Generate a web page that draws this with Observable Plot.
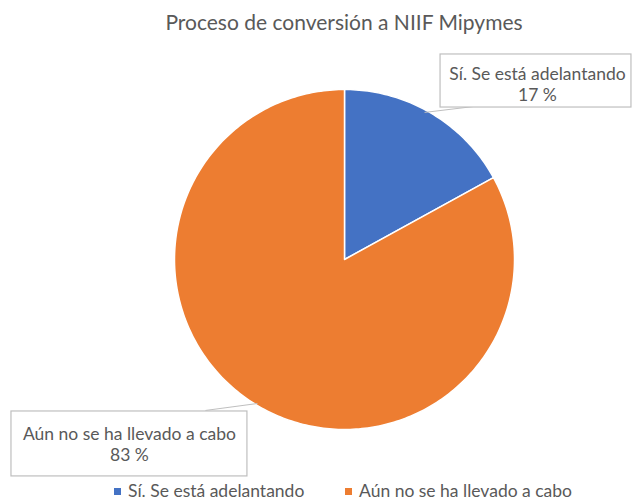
<!DOCTYPE html>
<html>
<head>
<meta charset="utf-8">
<script src="https://cdn.jsdelivr.net/npm/d3@7"></script>
<script src="https://cdn.jsdelivr.net/npm/@observablehq/plot@0.6"></script>
<style>
  body { margin: 0; background: #fff; font-family: Lato, "Open Sans", sans-serif; color: #595959; }
  #wrap { width: 632px; height: 502px; position: relative; overflow: hidden; }
  #title { position: absolute; left: 0; top: 0; width: 632px; height: 44px; line-height: 44px; text-align: center; font-size: 21px; padding-left: 56px; box-sizing: border-box; }
  #chart { position: absolute; left: 0; top: 44px; }
  #legend { position: absolute; left: 0; top: 480px; width: 632px; height: 22px; font-size: 17.5px; }
  .item { position: absolute; top: 0; line-height: 22px; white-space: nowrap; }
  .sw { display: inline-block; width: 7px; height: 7px; margin-right: 7px; vertical-align: middle; position: relative; top: -1px; }
</style>
</head>
<body>
<div id="wrap">
  <div id="title"></div>
  <div id="chart"></div>
  <div id="legend"></div>
</div>
<script>
const title = "Proceso de conversión a NIIF Mipymes";
const categories = ["Sí. Se está adelantando", "Aún no se ha llevado a cabo"];
const values = [17, 83];
const colors = ["#4472C4", "#ED7D31"];

document.getElementById("title").textContent = title;

// pie geometry (unit circle), angles from d3.pie, clockwise from top
const arcs = d3.pie().sort(null).startAngle(0).endAngle(2 * Math.PI)(values);
const slicePts = [];
arcs.forEach((a, i) => {
  const cat = categories[i];
  slicePts.push({cat, x: 0, y: 0});
  const n = Math.max(2, Math.ceil((a.endAngle - a.startAngle) / (Math.PI / 180)));
  for (let k = 0; k <= n; k++) {
    const t = a.startAngle + (a.endAngle - a.startAngle) * k / n;
    slicePts.push({cat, x: Math.sin(t), y: Math.cos(t)});
  }
  slicePts.push({cat, x: 0, y: 0});
});

// label layout (callout boxes) in unit-circle coordinates
const labelLayout = [
  {bx1: 0.565, bx2: 1.688, by1: 1.206, by2: 0.894, tx: 1.135, ty: 1.035, lx1: 0.759, ly1: 0.900, lx2: 0.471, ly2: 0.865},
  {bx1: -1.959, bx2: -0.571, by1: -0.894, by2: -1.276, tx: -1.265, ty: -1.082, lx1: -0.818, ly1: -0.888, lx2: -0.512, ly2: -0.847}
];
const labels = categories.map((c, i) => ({...labelLayout[i], text: c + "\n" + values[i] + " %"}));

const chart = Plot.plot({
  width: 632,
  height: 436,
  margin: 0,
  x: {domain: [-1, 1], range: [174, 514], axis: null},
  y: {domain: [-1, 1], range: [385, 45], axis: null},
  color: {domain: categories, range: colors},
  style: {fontFamily: "Lato, 'Open Sans', sans-serif", background: "white"},
  marks: [
    Plot.line(slicePts, {x: "x", y: "y", z: "cat", fill: "cat", stroke: "white", strokeWidth: 1.5, curve: "linear-closed"}),
    Plot.link(labels, {x1: "lx1", y1: "ly1", x2: "lx2", y2: "ly2", stroke: "#bfbfbf", strokeWidth: 1}),
    Plot.rect(labels, {x1: "bx1", x2: "bx2", y1: "by1", y2: "by2", fill: "white", stroke: "#bfbfbf", strokeWidth: 1.2}),
    Plot.text(labels, {x: "tx", y: "ty", text: "text", fill: "#595959", fontSize: 17.5, lineHeight: 1.25})
  ]
});
document.getElementById("chart").appendChild(chart);

// legend
const legend = document.getElementById("legend");
const legendX = [114, 345];
categories.forEach((c, i) => {
  const it = document.createElement("span");
  it.className = "item";
  it.style.left = legendX[i] + "px";
  const sw = document.createElement("span");
  sw.className = "sw";
  sw.style.background = colors[i];
  it.appendChild(sw);
  it.appendChild(document.createTextNode(c));
  legend.appendChild(it);
});
</script>
</body>
</html>
